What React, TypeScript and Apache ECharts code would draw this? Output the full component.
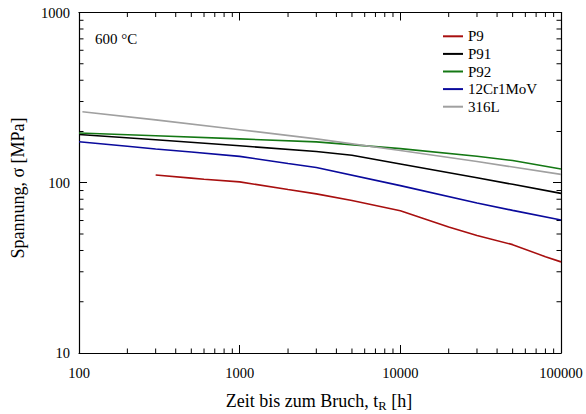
import React, { useEffect, useRef } from "react";
import * as echarts from "echarts";

// Zeitstandfestigkeit bei 600 °C (Bruchzeit in h, Spannung in MPa)
const P9_T = [300, 500, 600, 1000, 2000, 3000, 5000, 10000, 20000, 30000, 50000, 80000, 100000];
const P9_S = [111, 106.5, 104.9, 101.2, 91.3, 86.0, 78.6, 68.5, 55, 49, 43.3, 36.8, 34.3];

const P91_T = [100, 300, 1000, 3000, 5000, 10000, 30000, 50000, 100000];
const P91_S = [192, 179, 164.8, 152.5, 145, 129, 107, 97.9, 86.6];

const P92_T = [100, 300, 1000, 3000, 10000, 30000, 50000, 100000];
const P92_S = [196, 189, 181, 173.8, 158.6, 143.2, 135, 120.3];

const CR_T = [100, 200, 300, 500, 1000, 2000, 3000, 10000, 30000, 50000, 100000];
const CR_S = [174, 163.8, 158, 151.5, 142.9, 129.7, 122.8, 96.2, 76.1, 68.8, 60.4];

const L316_T = [105, 300, 1000, 3000, 10000, 30000, 100000];
const L316_S = [261, 234, 205, 181, 154.6, 133.2, 112];

const NAMES = ["P9", "P91", "P92", "12Cr1MoV", "316L"];
const COLORS = ["#a80f0f", "#000000", "#147814", "#0a0a9c", "#a0a0a0"];

// Zwischenteilstriche der logarithmischen Achsen
const X_MINOR = [
  200, 300, 400, 500, 600, 700, 800, 900,
  2000, 3000, 4000, 5000, 6000, 7000, 8000, 9000,
  20000, 30000, 40000, 50000, 60000, 70000, 80000, 90000,
];
const Y_MINOR = [20, 30, 40, 50, 60, 70, 80, 90, 200, 300, 400, 500, 600, 700, 800, 900];

const FONT = "Liberation Serif";

const zip = (t: number[], s: number[]) => t.map((v, i) => [v, s[i]]);

export default function App() {
  const ref = useRef<HTMLDivElement>(null);

  useEffect(() => {
    if (!ref.current) return;
    const chart = echarts.init(ref.current, undefined, { renderer: "svg" });

    const seriesData = [
      zip(P9_T, P9_S),
      zip(P91_T, P91_S),
      zip(P92_T, P92_S),
      zip(CR_T, CR_S),
      zip(L316_T, L316_S),
    ];

    const axisLine = { lineStyle: { color: "#000", width: 1.2 } };
    const axisTick = { inside: true, length: 8, lineStyle: { color: "#000", width: 1 } };
    const fmt = (v: number) => String(Math.round(v));

    const xBase = {
      type: "log" as const,
      logBase: 10,
      min: 100,
      max: 100000,
      axisLine,
      axisTick,
      splitLine: { show: false },
    };
    const yBase = {
      type: "log" as const,
      logBase: 10,
      min: 10,
      max: 1000,
      axisLine,
      axisTick,
      splitLine: { show: false },
    };

    const tickLen = 4.5;

    chart.setOption({
      animation: false,
      backgroundColor: "#ffffff",
      textStyle: { fontFamily: FONT, color: "#000" },
      grid: { left: 79, right: 25, top: 12.5, bottom: 61 },
      xAxis: [
        {
          ...xBase,
          position: "bottom",
          axisLabel: {
            color: "#000",
            fontFamily: FONT,
            fontSize: 14.5,
            margin: 12,
            formatter: fmt,
            showMinLabel: true,
            showMaxLabel: true,
          },
        },
        { ...xBase, position: "top", axisLabel: { show: false } },
      ],
      yAxis: [
        {
          ...yBase,
          position: "left",
          axisLabel: {
            color: "#000",
            fontFamily: FONT,
            fontSize: 14.5,
            margin: 9,
            formatter: fmt,
            showMinLabel: true,
            showMaxLabel: true,
          },
        },
        { ...yBase, position: "right", axisLabel: { show: false } },
      ],
      legend: {
        orient: "vertical",
        left: 443,
        top: 28.8,
        padding: 0,
        itemWidth: 20,
        itemHeight: 2,
        itemGap: 2.6,
        icon: "rect",
        data: NAMES.map((name) => ({
          name,
          textStyle: { fontFamily: FONT, fontSize: 15, color: "#000" },
        })),
        textStyle: { fontFamily: FONT, fontSize: 15, color: "#000", lineHeight: 15 },
      },
      series: [
        ...NAMES.map((name, i) => ({
          name,
          type: "line",
          data: seriesData[i],
          showSymbol: false,
          symbol: "none",
          color: COLORS[i],
          lineStyle: { color: COLORS[i], width: 1.6 },
          silent: true,
        })),
        {
          type: "custom",
          silent: true,
          data: X_MINOR.map((v) => [v, 100]),
          renderItem: (params: any, api: any) => {
            const x = api.coord([api.value(0), api.value(1)])[0];
            const cs = params.coordSys;
            const b = cs.y + cs.height;
            return {
              type: "group",
              children: [
                { type: "line", shape: { x1: x, y1: b, x2: x, y2: b - tickLen }, style: { stroke: "#000", lineWidth: 1 } },
                { type: "line", shape: { x1: x, y1: cs.y, x2: x, y2: cs.y + tickLen }, style: { stroke: "#000", lineWidth: 1 } },
              ],
            };
          },
        },
        {
          type: "custom",
          silent: true,
          data: Y_MINOR.map((v) => [1000, v]),
          renderItem: (params: any, api: any) => {
            const y = api.coord([api.value(0), api.value(1)])[1];
            const cs = params.coordSys;
            const r = cs.x + cs.width;
            return {
              type: "group",
              children: [
                { type: "line", shape: { x1: cs.x, y1: y, x2: cs.x + tickLen, y2: y }, style: { stroke: "#000", lineWidth: 1 } },
                { type: "line", shape: { x1: r, y1: y, x2: r - tickLen, y2: y }, style: { stroke: "#000", lineWidth: 1 } },
              ],
            };
          },
        },
      ],
      graphic: [
        {
          type: "text",
          left: 95,
          top: 31,
          style: { text: "600 °C", font: `15px ${FONT}`, fill: "#000" },
        },
        {
          type: "text",
          x: 319,
          y: 401,
          style: {
            text: "{a|Zeit bis zum Bruch, t}{s|R}{a| [h]}",
            align: "center",
            verticalAlign: "middle",
            fill: "#000",
            rich: {
              a: { fontFamily: FONT, fontSize: 18, lineHeight: 22, fill: "#000" },
              s: { fontFamily: FONT, fontSize: 12.5, lineHeight: 12, verticalAlign: "bottom", fill: "#000" },
            },
          },
        },
        {
          type: "text",
          x: 18,
          y: 188,
          rotation: Math.PI / 2,
          style: {
            text: "Spannung, σ [MPa]",
            font: `18px ${FONT}`,
            align: "center",
            verticalAlign: "middle",
            fill: "#000",
          },
        },
      ],
    });

    return () => chart.dispose();
  }, []);

  return (
    <div
      ref={ref}
      style={{ position: "fixed", left: 0, top: 0, width: 586, height: 414, background: "#fff" }}
    />
  );
}
